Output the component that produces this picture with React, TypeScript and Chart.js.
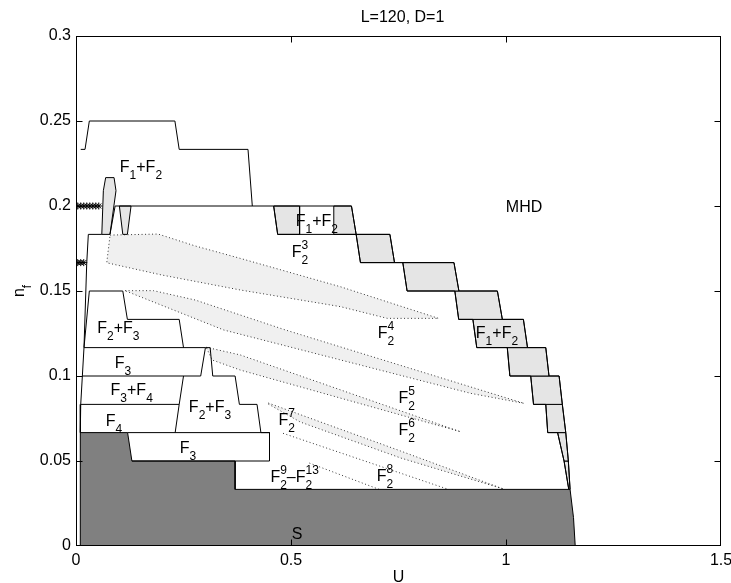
import React, { useEffect, useRef } from 'react';
import { Chart, registerables } from 'chart.js';

Chart.register(...registerables);

type Pt = [number, number];

// ---------- axes ----------
const xTickValues = [0, 0.5, 1, 1.5];
const xTickLabels = ['0', '0.5', '1', '1.5'];
const yTickValues = [0, 0.05, 0.1, 0.15, 0.2, 0.25, 0.3];
const yTickLabels = ['0', '0.05', '0.1', '0.15', '0.2', '0.25', '0.3'];
const titleText = 'L=120, D=1';
const xTitle = 'U';
const yTitle = 'n_f';

// ---------- solid phase S ----------
const sRegion: Pt[] = [
  [0.01, 0], [0.01, 0.0667], [0.12, 0.0667], [0.13, 0.05], [0.37, 0.05], [0.37, 0.0333],
  [1.149, 0.0333], [1.157, 0.0167], [1.161, 0],
];

// ---------- F1+F2 staircase (grey cells) ----------
const stepA: Pt[] = [[0.4597, 0.2], [0.52, 0.2], [0.52, 0.1833], [0.469, 0.1833]];
const stepB: Pt[] = [[0.5995, 0.2], [0.6406, 0.2], [0.6515, 0.1833], [0.5995, 0.1833]];
const stepC: Pt[] = [[0.6515, 0.1833], [0.73, 0.1833], [0.7407, 0.1667], [0.6615, 0.1667]];
const stepD: Pt[] = [[0.76, 0.1667], [0.879, 0.1667], [0.8905, 0.15], [0.77, 0.15]];
const stepE: Pt[] = [[0.881, 0.15], [0.98, 0.15], [0.9915, 0.1333], [0.89, 0.1333]];
const stepF: Pt[] = [[0.923, 0.1333], [1.0405, 0.1333], [1.05, 0.1167], [0.932, 0.1167]];
const stepG: Pt[] = [[1.003, 0.1167], [1.0925, 0.1167], [1.1, 0.1], [1.009, 0.1]];
const stepH: Pt[] = [[1.0575, 0.1], [1.1235, 0.1], [1.131, 0.0833], [1.064, 0.0833]];
const stepI: Pt[] = [[1.0925, 0.0833], [1.131, 0.0833], [1.139, 0.0667], [1.097, 0.0667]];
const stepJ: Pt[] = [[1.12, 0.0667], [1.139, 0.0667], [1.145, 0.05], [1.135, 0.05]];
const stepK: Pt[] = [[1.135, 0.05], [1.145, 0.05], [1.149, 0.0333], [1.146, 0.0333]];

const stairLeft: Pt[] = [
  [0.4597, 0.2], [0.469, 0.1833], [0.6515, 0.1833], [0.6615, 0.1667], [0.76, 0.1667], [0.77, 0.15],
  [0.881, 0.15], [0.89, 0.1333], [0.923, 0.1333], [0.932, 0.1167], [1.003, 0.1167], [1.009, 0.1],
  [1.0575, 0.1], [1.064, 0.0833], [1.0925, 0.0833], [1.097, 0.0667], [1.12, 0.0667], [1.135, 0.05],
  [1.146, 0.0333],
];
const stairRight: Pt[] = [
  [0.4597, 0.2], [0.6406, 0.2], [0.6515, 0.1833], [0.73, 0.1833], [0.7407, 0.1667], [0.879, 0.1667],
  [0.8905, 0.15], [0.98, 0.15], [0.9915, 0.1333], [1.0405, 0.1333], [1.05, 0.1167], [1.0925, 0.1167],
  [1.1, 0.1], [1.1235, 0.1], [1.131, 0.0833], [1.139, 0.0667], [1.145, 0.05], [1.149, 0.0333],
];

// ---------- small grey cells near the left ----------
const tallCell: Pt[] = [[0.06, 0.1833], [0.0636, 0.209], [0.069, 0.2167], [0.0885, 0.2167], [0.093, 0.209], [0.079, 0.1833]];
const smallCell: Pt[] = [[0.1009, 0.2], [0.128, 0.2], [0.1195, 0.1833], [0.1088, 0.1833]];

// ---------- black phase boundaries ----------
const topF1F2: Pt[] = [[0.011, 0.2333], [0.021, 0.2333], [0.031, 0.25], [0.23, 0.25], [0.24, 0.2333], [0.4, 0.2333], [0.41, 0.2]];
const line020: Pt[] = [[0.079, 0.1833], [0.091, 0.2], [0.4597, 0.2]];
const leftEdge: Pt[] = [[0.06, 0.1833], [0.0287, 0.1833], [0.025, 0.1667], [0.0186, 0.1167], [0.011, 0.0833], [0.01, 0.0667]];
const f23Upper: Pt[] = [[0.0186, 0.1167], [0.031, 0.15], [0.1088, 0.15], [0.1195, 0.1333], [0.24, 0.1333], [0.25, 0.1167]];
const f3Top: Pt[] = [[0.0186, 0.1167], [0.301, 0.1167], [0.29, 0.1]];
const spike: Pt[] = [[0.301, 0.1167], [0.312, 0.1167], [0.318, 0.1]];
const line010: Pt[] = [[0.0148, 0.1], [0.29, 0.1]];
const f23Lower: Pt[] = [[0.318, 0.1], [0.37, 0.1], [0.38, 0.0833], [0.421, 0.0833], [0.43, 0.0667], [0.45, 0.0667], [0.45, 0.05], [0.13, 0.05]];
const f3LowerTop: Pt[] = [[0.12, 0.0667], [0.45, 0.0667]];
const f34Right: Pt[] = [[0.25, 0.1], [0.24, 0.0833], [0.2306, 0.0667]];
const line0083: Pt[] = [[0.011, 0.0833], [0.24, 0.0833]];

// ---------- dotted wedges (F2^n families) ----------
const wedge3: Pt[] = [
  [0.0792, 0.1829], [0.191, 0.1835], [0.2772, 0.1765], [0.382, 0.1692], [0.615, 0.1525], [0.8432, 0.1339],
  [0.7237, 0.1339], [0.615, 0.1408], [0.382, 0.1506], [0.1996, 0.1594], [0.0715, 0.1666],
];
const wedge4: Pt[] = [
  [0.1141, 0.1502], [0.1801, 0.1502], [0.2772, 0.1447], [0.382, 0.1359], [0.4868, 0.1271], [1.042, 0.0839],
  [0.9178, 0.0898], [0.3431, 0.1271], [0.1218, 0.1494],
];
const wedge5: Pt[] = [[0.3028, 0.1169], [0.382, 0.1124], [0.8945, 0.0672], [0.382, 0.1035], [0.3168, 0.1094]];
const wedge7: Pt[] = [[0.4472, 0.0841], [0.7547, 0.0559], [0.9946, 0.0335], [0.7547, 0.0518], [0.5218, 0.0729], [0.4472, 0.0835]];
const dotLine8: Pt[] = [[0.4815, 0.0663], [0.866, 0.0333]];
const dotLine9: Pt[] = [[0.5427, 0.0488], [0.705, 0.0333]];

// ---------- asterisk markers ----------
const starsX020 = [0.004, 0.011, 0.018, 0.025, 0.032, 0.039, 0.046, 0.053];
const starsY020 = 0.2;
const starsX0167 = [0.004, 0.011, 0.018];
const starsY0167 = 0.1667;

// ---------- region labels (u, n of text baseline centre) ----------
const labelText = [
  'F_1+F_2', 'MHD', 'F_1+F_2', 'F_2^3', 'F_2^4', 'F_1+F_2', 'F_2+F_3', 'F_3', 'F_3+F_4', 'F_4',
  'F_2+F_3', 'F_3', 'F_2^5', 'F_2^6', 'F_2^7', 'F_2^8', 'F_2^9–F_2^{13}', 'S',
];
const labelU = [0.151, 1.042, 0.56, 0.521, 0.721, 0.979, 0.0984, 0.1093, 0.1295, 0.0884, 0.3116, 0.2605, 0.7691, 0.7691, 0.49, 0.7186, 0.5084, 0.514];
const labelN = [0.2202, 0.1965, 0.1882, 0.1702, 0.1225, 0.1225, 0.1255, 0.1049, 0.0888, 0.0706, 0.0788, 0.0547, 0.0839, 0.0653, 0.0712, 0.0384, 0.0379, 0.0041];

const FONT = '"Liberation Sans", Arial, Helvetica, sans-serif';
const MAIN_PX = 16;
const SCRIPT_PX = 12;

type Part = { t?: string; sub?: string; sup?: string };

function parseTeX(s: string): Part[] {
  const parts: Part[] = [];
  let i = 0;
  while (i < s.length) {
    const c = s[i];
    if (c === '_' || c === '^') {
      let arg = '';
      if (s[i + 1] === '{') {
        const j = s.indexOf('}', i + 2);
        arg = s.slice(i + 2, j);
        i = j + 1;
      } else {
        arg = s[i + 1];
        i += 2;
      }
      const last = parts[parts.length - 1];
      const key = c === '_' ? 'sub' : 'sup';
      if (last && last.t === undefined && (last as any)[key] === undefined) (last as any)[key] = arg;
      else parts.push({ [key]: arg } as Part);
    } else {
      const last = parts[parts.length - 1];
      if (last && last.t !== undefined) last.t += c;
      else parts.push({ t: c });
      i++;
    }
  }
  return parts;
}

function partWidth(ctx: CanvasRenderingContext2D, p: Part) {
  if (p.t !== undefined) {
    ctx.font = `${MAIN_PX}px ${FONT}`;
    return ctx.measureText(p.t).width;
  }
  ctx.font = `${SCRIPT_PX}px ${FONT}`;
  return Math.max(p.sub ? ctx.measureText(p.sub).width : 0, p.sup ? ctx.measureText(p.sup).width : 0);
}

function drawRich(ctx: CanvasRenderingContext2D, cx: number, baseline: number, text: string) {
  const parts = parseTeX(text);
  const widths = parts.map((p) => partWidth(ctx, p));
  const total = widths.reduce((a, b) => a + b, 0);
  let x = cx - total / 2;
  ctx.textAlign = 'left';
  ctx.textBaseline = 'alphabetic';
  ctx.fillStyle = '#000';
  parts.forEach((p, k) => {
    if (p.t !== undefined) {
      ctx.font = `${MAIN_PX}px ${FONT}`;
      ctx.fillText(p.t, x, baseline);
    } else {
      ctx.font = `${SCRIPT_PX}px ${FONT}`;
      if (p.sub) ctx.fillText(p.sub, x, baseline + 7);
      if (p.sup) ctx.fillText(p.sup, x, baseline - 8);
    }
    x += widths[k];
  });
}

const toXY = (pts: Pt[]) => pts.map(([x, y]) => ({ x, y }));
const closed = (pts: Pt[]) => [...pts, pts[0]];

function polyDs(pts: Pt[], fillColor: string, order: number, dotted = false) {
  return {
    data: toXY(closed(pts)),
    showLine: true,
    fill: false,
    polyFill: fillColor,
    borderColor: dotted ? '#333' : '#000',
    borderWidth: 1,
    borderDash: dotted ? [1, 2.5] : [],
    pointRadius: 0,
    pointHoverRadius: 0,
    tension: 0,
    order,
  };
}
function lineDs(pts: Pt[], order: number, dotted = false) {
  return {
    data: toXY(pts),
    showLine: true,
    fill: false,
    borderColor: dotted ? '#333' : '#000',
    borderWidth: 1,
    borderDash: dotted ? [1, 2.5] : [],
    pointRadius: 0,
    pointHoverRadius: 0,
    tension: 0,
    order,
  };
}
function starDs(xs: number[], yv: number) {
  return {
    data: xs.map((x) => ({ x, y: yv })),
    showLine: false,
    pointStyle: 'star',
    pointRadius: 3.5,
    pointBorderColor: '#000',
    pointBackgroundColor: '#000',
    pointBorderWidth: 1,
    borderColor: '#000',
    order: 1,
  };
}

const polyFillPlugin = {
  id: 'polyFill',
  beforeDatasetDraw(chart: any, args: any) {
    const ds = chart.data.datasets[args.index];
    if (!ds.polyFill) return;
    const pts = args.meta.data;
    const ctx = chart.ctx as CanvasRenderingContext2D;
    ctx.save();
    ctx.beginPath();
    pts.forEach((p: any, i: number) => (i ? ctx.lineTo(p.x, p.y) : ctx.moveTo(p.x, p.y)));
    ctx.closePath();
    ctx.fillStyle = ds.polyFill;
    ctx.fill();
    ctx.restore();
  },
};

const overlayPlugin = {
  id: 'overlay',
  afterDraw(chart: any) {
    const ctx = chart.ctx as CanvasRenderingContext2D;
    const a = chart.chartArea;
    const xs = chart.scales.x;
    const ys = chart.scales.y;
    ctx.save();
    // region labels
    labelText.forEach((t, i) => {
      drawRich(ctx, xs.getPixelForValue(labelU[i]), ys.getPixelForValue(labelN[i]), t);
    });
    // frame
    const L = Math.round(a.left) + 0.5;
    const R = Math.round(a.right) - 0.5;
    const T = Math.round(a.top) + 0.5;
    const B = Math.round(a.bottom) - 0.5;
    ctx.strokeStyle = '#000';
    ctx.lineWidth = 1;
    ctx.setLineDash([]);
    ctx.strokeRect(L, T, R - L, B - T);
    // inward ticks
    const tl = 6;
    ctx.beginPath();
    xTickValues.forEach((v) => {
      const px = Math.round(xs.getPixelForValue(v)) + 0.5;
      const p = Math.min(Math.max(px, L), R);
      ctx.moveTo(p, B); ctx.lineTo(p, B - tl);
      ctx.moveTo(p, T); ctx.lineTo(p, T + tl);
    });
    yTickValues.forEach((v) => {
      const py = Math.round(ys.getPixelForValue(v)) + 0.5;
      const p = Math.min(Math.max(py, T), B);
      ctx.moveTo(L, p); ctx.lineTo(L + tl, p);
      ctx.moveTo(R, p); ctx.lineTo(R - tl, p);
    });
    ctx.stroke();
    // title
    ctx.fillStyle = '#000';
    ctx.font = `${MAIN_PX}px ${FONT}`;
    ctx.textAlign = 'center';
    ctx.textBaseline = 'alphabetic';
    ctx.fillText(titleText, (a.left + a.right) / 2 + 4, 22);
    // x title
    ctx.fillText(xTitle, (a.left + a.right) / 2, 582);
    // y title (rotated)
    ctx.translate(24, (a.top + a.bottom) / 2);
    ctx.rotate(-Math.PI / 2);
    drawRich(ctx, 0, 0, yTitle);
    ctx.restore();
  },
};

export default function App() {
  const ref = useRef<HTMLCanvasElement>(null);
  useEffect(() => {
    const grey = '#e5e5e5';
    const light = '#f0f0f0';
    const datasets: any[] = [
      polyDs(wedge3, light, 90, true),
      polyDs(wedge4, light, 90, true),
      polyDs(wedge5, light, 90, true),
      polyDs(wedge7, light, 90, true),
      lineDs(dotLine8, 85, true),
      lineDs(dotLine9, 85, true),
      polyDs(sRegion, '#808080', 80),
      ...[stepA, stepB, stepC, stepD, stepE, stepF, stepG, stepH, stepI, stepJ, stepK].map((s) => polyDs(s, grey, 70)),
      polyDs(tallCell, grey, 60),
      polyDs(smallCell, grey, 60),
      lineDs(stairLeft, 20),
      lineDs(stairRight, 20),
      lineDs(topF1F2, 20),
      lineDs(line020, 20),
      lineDs(leftEdge, 20),
      lineDs(f23Upper, 20),
      lineDs(f3Top, 20),
      lineDs(spike, 20),
      lineDs(line010, 20),
      lineDs(f23Lower, 20),
      lineDs(f3LowerTop, 20),
      lineDs(f34Right, 20),
      lineDs(line0083, 20),
      starDs(starsX020, starsY020),
      starDs(starsX0167, starsY0167),
    ];
    const chart = new Chart(ref.current as HTMLCanvasElement, {
      type: 'scatter',
      data: { datasets },
      options: {
        responsive: false,
        animation: false,
        devicePixelRatio: 1,
        layout: { padding: { left: 0, right: 10, top: 36, bottom: 0 } },
        plugins: { legend: { display: false }, tooltip: { enabled: false }, title: { display: false } },
        events: [],
        scales: {
          x: {
            type: 'linear',
            min: 0,
            max: 1.5,
            grid: { display: false, drawTicks: false },
            border: { display: false },
            afterBuildTicks: (s: any) => { s.ticks = xTickValues.map((value) => ({ value })); },
            afterFit: (s: any) => { s.height = 37; s.paddingLeft = 0; s.paddingRight = 0; },
            ticks: {
              autoSkip: false,
              maxRotation: 0,
              padding: 5,
              color: '#000',
              font: { family: FONT, size: 16 },
              callback: (v: any) => xTickLabels[xTickValues.indexOf(Number(v))],
            },
          },
          y: {
            type: 'linear',
            min: 0,
            max: 0.3,
            grid: { display: false, drawTicks: false },
            border: { display: false },
            afterBuildTicks: (s: any) => { s.ticks = yTickValues.map((value) => ({ value })); },
            afterFit: (s: any) => { s.width = 76; s.paddingTop = 0; s.paddingBottom = 0; },
            ticks: {
              autoSkip: false,
              padding: 5,
              color: '#000',
              font: { family: FONT, size: 16 },
              callback: (v: any) => yTickLabels[yTickValues.indexOf(Number(v))],
            },
          },
        },
      } as any,
      plugins: [polyFillPlugin, overlayPlugin],
    });
    return () => chart.destroy();
  }, []);
  return (
    <div style={{ position: 'fixed', left: 0, top: 0, width: 731, height: 583, background: '#fff' }}>
      <canvas ref={ref} width={731} height={583} style={{ width: 731, height: 583, display: 'block' }} />
    </div>
  );
}
